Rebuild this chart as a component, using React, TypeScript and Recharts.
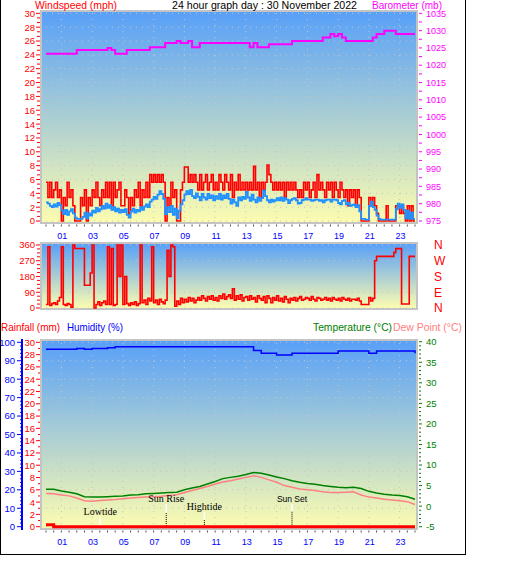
import React from "react";
import { ComposedChart, Line, XAxis, YAxis, ReferenceLine } from "recharts";

// ---- values (30 November 2022) ----
const HOUR_TICKS = [1, 3, 5, 7, 9, 11, 13, 15, 17, 19, 21, 23];
const HOUR_LABELS = ["01", "03", "05", "07", "09", "11", "13", "15", "17", "19", "21", "23"];

// wind: one sample every 7.5 minutes, 00:00 .. 24:00
const GUST_MPH = [
  5.6, 3.4, 5.6, 3.4, 4.5, 5.6, 3.4, 4.5,
  0, 3.4, 2.2, 5.6, 3.4, 4.5, 2.2, 0,
  0, 0, 3.4, 2.2, 4.5, 0, 3.4, 2.2,
  4.5, 3.4, 5.6, 3.4, 2.2, 4.5, 3.4, 5.6,
  3.4, 5.6, 2.2, 5.6, 3.4, 4.5, 5.6, 2.2,
  2.2, 4.5, 3.4, 1.1, 3.4, 2.2, 4.5, 3.4,
  5.6, 2.2, 4.5, 3.4, 5.6, 3.4, 6.7, 5.6,
  6.7, 5.6, 6.7, 5.6, 6.7, 5.6, 0, 3.4,
  2.2, 5.6, 3.4, 4.5, 0, 0, 4.5, 5.6,
  7.8, 7.8, 5.6, 6.7, 5.6, 6.7, 5.6, 4.5,
  6.7, 4.5, 5.6, 6.7, 4.5, 5.6, 6.7, 4.5,
  5.6, 4.5, 6.7, 5.6, 4.5, 6.7, 5.6, 4.5,
  6.7, 3.4, 5.6, 4.5, 6.7, 4.5, 5.6, 4.5,
  5.6, 4.5, 5.6, 4.5, 7.9, 4.5, 5.6, 3.4,
  5.6, 4.5, 5.6, 8.1, 6.7, 5.6, 4.5, 5.6,
  4.5, 5.6, 4.5, 5.6, 3.4, 5.6, 4.5, 5.6,
  4.5, 5.6, 4.5, 3.4, 4.5, 3.4, 5.6, 4.5,
  5.6, 3.4, 4.5, 5.6, 3.4, 6.7, 4.5, 5.6,
  4.5, 3.4, 5.6, 4.5, 5.6, 3.4, 5.6, 4.5,
  3.4, 5.6, 4.5, 3.4, 4.5, 2.2, 4.5, 3.4,
  4.5, 2.2, 4.5, 3.4, 0, 0, 0, 0,
  3.4, 2.2, 3.4, 2.2, 1.1, 0, 0, 0,
  0, 2.2, 0, 0, 0, 0, 2.2, 2.2,
  1.1, 2.2, 1.1, 0, 2.2, 0, 2.2, 0,
  0,
];
const AVG_MPH = [
  2.7, 2.5, 2.2, 2.0, 2.4, 2.1, 2.6, 2.3,
  1.5, 1.0, 1.6, 0.9, 1.4, 1.7, 1.1, 0.5,
  0.3, 0.3, 0.3, 0.6, 1.2, 0.4, 1.1, 0.8,
  1.5, 1.2, 1.9, 1.4, 1.7, 2.2, 1.8, 2.5,
  1.9, 2.3, 1.6, 2.0, 1.4, 1.8, 1.2, 1.6,
  1.3, 1.7, 0.9, 0.5, 1.4, 1.8, 1.2, 1.6,
  1.4, 2.0, 1.6, 2.1, 2.4, 2.0, 2.8, 3.1,
  3.5, 3.2, 3.8, 4.3, 3.9, 3.2, 1.0, 2.0,
  1.3, 2.2, 0.9, 1.8, 0.4, 1.5, 2.4, 3.0,
  3.8, 4.3, 3.9, 4.5, 3.6, 3.3, 4.0, 3.5,
  3.0, 3.9, 3.4, 3.1, 3.9, 3.3, 3.7, 3.0,
  3.6, 3.2, 3.9, 3.1, 3.7, 3.3, 3.9, 3.2,
  2.5, 3.1, 2.7, 2.2, 3.4, 3.0, 3.5, 3.2,
  4.2, 3.4, 2.9, 3.8, 3.1, 2.7, 3.4, 2.9,
  3.3, 4.4, 3.6, 3.0, 2.7, 3.1, 2.8, 3.0,
  3.3, 3.0, 3.4, 2.9, 3.3, 3.1, 2.6, 3.0,
  3.2, 3.3, 3.0, 2.5, 2.6, 3.0, 3.1, 3.3,
  3.1, 3.1, 2.9, 3.0, 3.1, 3.1, 2.9, 3.0,
  2.7, 3.0, 3.1, 3.1, 2.8, 3.1, 3.1, 3.0,
  2.6, 2.4, 2.9, 3.0, 2.4, 2.6, 2.2, 2.3,
  2.4, 2.0, 2.3, 1.4, 0.3, 0.3, 0.2, 0.2,
  2.2, 2.8, 2.0, 1.6, 0.8, 0.3, 0.2, 0.2,
  0.2, 0.2, 0.2, 0.2, 0.2, 0.2, 1.7, 2.5,
  1.9, 2.4, 1.6, 0.4, 1.5, 0.3, 1.2, 0.3,
  0.3,
];
const WIND_DIR = [
  20, 350, 15, 25, 30, 20, 40, 60,
  350, 20, 15, 25, 20, 5, 360, 340,
  340, 340, 340, 340, 130, 130, 130, 200,
  360, 0, 20, 35, 15, 30, 40, 20,
  350, 20, 340, 15, 20, 360, 180, 360,
  20, 180, 25, 15, 30, 20, 35, 15,
  25, 360, 30, 45, 20, 55, 40, 350,
  30, 45, 20, 50, 35, 25, 45, 330,
  180, 360, 350, 10, 40, 20, 55, 30,
  50, 35, 60, 40, 55, 30, 45, 60,
  45, 70, 55, 40, 65, 50, 70, 45,
  60, 40, 70, 55, 80, 50, 65, 75,
  55, 110, 45, 70, 50, 75, 40, 60,
  65, 45, 70, 50, 60, 35, 70, 55,
  45, 65, 30, 70, 55, 30, 60, 45,
  70, 40, 55, 35, 65, 50, 30, 55,
  45, 60, 40, 55, 65, 45, 50, 60,
  55, 45, 65, 50, 40, 60, 55, 45,
  50, 60, 45, 55, 40, 60, 50, 45,
  55, 40, 60, 50, 45, 55, 40, 50,
  50, 45, 55, 40, 20, 20, 20, 20,
  60, 40, 55, 270, 295, 295, 295, 295,
  295, 295, 295, 295, 295, 318, 339, 339,
  339, 23, 23, 23, 23, 295, 295, 295,
  295,
];
// barometer: one sample every 15 minutes
const BARO_MB = [
  1023.3, 1023.3, 1023.3, 1023.3, 1023.3, 1023.3, 1023.3, 1023.3,
  1024.4, 1024.4, 1024.4, 1024.4, 1024.4, 1024.4, 1024.4, 1024.4,
  1025.0, 1024.4, 1023.3, 1023.3, 1023.3, 1024.4, 1024.4, 1024.4,
  1024.4, 1024.4, 1024.4, 1025.2, 1025.2, 1025.2, 1025.2, 1026.4,
  1026.4, 1026.4, 1027.0, 1026.4, 1026.4, 1027.0, 1025.2, 1025.2,
  1026.4, 1026.4, 1026.4, 1026.4, 1026.4, 1026.4, 1026.4, 1026.4,
  1026.4, 1026.4, 1026.4, 1026.4, 1026.4, 1025.2, 1026.4, 1025.2,
  1025.2, 1025.2, 1026.1, 1026.1, 1026.1, 1026.1, 1026.1, 1026.1,
  1027.0, 1027.0, 1027.0, 1027.0, 1027.0, 1027.0, 1027.0, 1027.0,
  1028.0, 1028.0, 1029.0, 1028.4, 1029.0, 1028.0, 1027.0, 1027.0,
  1027.0, 1027.0, 1027.0, 1027.0, 1027.0, 1028.0, 1029.0, 1029.0,
  1030.0, 1030.0, 1030.0, 1029.0, 1029.0, 1029.0, 1029.0, 1029.0,
  1029.0,
];
// one sample every 30 minutes
const HUMIDITY = [
  96.2, 96.2, 96.2, 96.2, 96.7, 96.2, 96.7, 96.7, 97.1, 97.6,
  97.6, 97.6, 97.6, 97.6, 97.6, 97.6, 97.6, 97.6, 97.6, 97.6,
  97.6, 97.6, 97.6, 97.6, 97.6, 97.6, 97.6, 95.5, 94.0, 94.0,
  93.1, 93.1, 94.0, 94.0, 94.0, 94.0, 94.0, 94.0, 95.3, 95.3,
  95.3, 95.3, 94.0, 95.3, 95.3, 95.3, 95.3, 95.3, 94.0,
];
const TEMP_C = [
  4.1, 4.1, 3.7, 3.4, 3.0, 2.3, 2.2, 2.2, 2.3, 2.4,
  2.5, 2.7, 2.8, 3.0, 3.1, 3.2, 3.3, 3.4, 4.0, 4.4,
  4.8, 5.4, 6.0, 6.7, 7.0, 7.3, 7.7, 8.2, 8.0, 7.6,
  7.1, 6.7, 6.2, 5.8, 5.5, 5.3, 5.0, 4.8, 4.6, 4.5,
  4.6, 4.3, 3.6, 3.2, 2.9, 2.7, 2.6, 2.3, 1.7,
];
const DEW_C = [
  3.1, 3.0, 2.7, 2.5, 2.0, 1.3, 1.2, 1.4, 1.5, 1.6,
  1.8, 2.0, 2.1, 2.2, 2.3, 2.4, 2.6, 2.8, 3.3, 3.8,
  4.3, 4.8, 5.4, 5.9, 6.2, 6.6, 7.0, 7.4, 7.0, 6.4,
  5.8, 5.0, 4.6, 4.2, 4.0, 3.8, 3.5, 3.3, 3.3, 3.4,
  3.5, 2.7, 2.2, 2.0, 1.7, 1.5, 1.3, 1.1, 0.4,
];
const RAIN_MM = [
  0.3, 0, 0, 0, 0, 0, 0, 0, 0, 0,
  0, 0, 0, 0, 0, 0, 0, 0, 0, 0,
  0, 0, 0, 0, 0, 0, 0, 0, 0, 0,
  0, 0, 0, 0, 0, 0, 0, 0, 0, 0,
  0, 0, 0, 0, 0, 0, 0, 0, 0,
];

const EVENT_LABELS = ["Lowtide", "Sun Rise", "Hightide", "Sun Set"];
const EVENT_HOURS = [3.53, 7.82, 10.3, 16.0];

// axis labels
const MPH_LABELS = [0, 2, 4, 6, 8, 10, 12, 14, 16, 18, 20, 22, 24, 26, 28, 30];
const MB_LABELS = [975, 980, 985, 990, 995, 1000, 1005, 1010, 1015, 1020, 1025, 1030, 1035];
const DEG_LABELS = [0, 90, 180, 270, 360];
const COMPASS_LABELS = ["N", "E", "S", "W", "N"];
const HUM_LABELS = [0, 10, 20, 30, 40, 50, 60, 70, 80, 90, 100];
const RAIN_LABELS = [0, 2, 4, 6, 8, 10, 12, 14, 16, 18, 20, 22, 24, 26, 28, 30];
const TEMP_LABELS = [-5, 0, 5, 10, 15, 20, 25, 30, 35, 40];

// ---- layout / style ----
const WIND_STEP = 0.125;
const BARO_STEP = 0.25;
const CLIMATE_STEP = 0.5;
const X_DOMAIN: [number, number] = [-0.39, 24.195];
const FONT = "'Liberation Sans', Arial, sans-serif";
const GRID = { stroke: "#c4c4c4", strokeDasharray: "1 5" };
// white part top / split / bottom of each marker, in deg C
const MARKER_SPANS = [
  [-2.57, -4.85, -5.3],
  [0.52, -1.67, -5.3],
  [-1.5, -3.4, -5.3],
  [0.52, -1.35, -5.3],
];
const MARKER_FONTS = [
  { fontFamily: "'Liberation Serif', serif", fontSize: 10 },
  { fontFamily: "'Liberation Serif', serif", fontSize: 10 },
  { fontFamily: "'Liberation Serif', serif", fontSize: 10 },
  { fontFamily: FONT, fontSize: 8.5 },
];

const rows = (vals: number[], step: number) => vals.map((v, i) => ({ h: i * step, v }));
const steps = (from: number, to: number, step: number) => {
  const out: number[] = [];
  for (let v = from; v <= to + 1e-6; v += step) out.push(+v.toFixed(4));
  return out;
};
const near = (list: number[], v: number) => list.findIndex((l) => Math.abs(l - v) < 1e-3);

const HALF_HOURS = steps(0, 24, 0.5);

function hourTick(labelDy: number) {
  return (p: any) => {
    const i = near(HOUR_TICKS, p.payload.value);
    return (
      <g>
        <line x1={p.x} x2={p.x} y1={p.y + 0.5} y2={p.y + 2.5} stroke="#505050" />
        {i >= 0 && (
          <text x={p.x + 1} y={p.y + labelDy} textAnchor="middle" fill="#0000ff" fontSize={9} fontFamily={FONT}>
            {HOUR_LABELS[i]}
          </text>
        )}
      </g>
    );
  };
}

interface SideOpts {
  side: "left" | "right";
  color: string;
  labels: number[];
  text?: string[];
  major: number;
  minor: number;
  gap: number;
  fontSize?: number;
}

function sideTick(o: SideOpts) {
  return (p: any) => {
    const i = near(o.labels, p.payload.value);
    const len = i >= 0 ? o.major : o.minor;
    const dir = o.side === "left" ? -1 : 1;
    const x0 = o.side === "left" ? p.x : p.x + 1;
    return (
      <g>
        {len > 0 && <line x1={x0} x2={x0 + dir * len} y1={p.y} y2={p.y} stroke={o.color} />}
        {i >= 0 && (
          <text
            x={p.x + dir * o.gap}
            y={p.y + (o.fontSize ?? 9.5) * 0.36}
            textAnchor={o.side === "left" ? "end" : "start"}
            fill={o.color}
            fontSize={o.fontSize ?? 9.5}
            fontFamily={FONT}
          >
            {o.text ? o.text[i] : String(o.labels[i])}
          </text>
        )}
      </g>
    );
  };
}

const axisBase = { tickLine: false, axisLine: false, tickSize: 0, tickMargin: 0, interval: 0 as const, allowDataOverflow: true };

function WindChart() {
  return (
    <ComposedChart width={529} height={240} margin={{ top: 10, right: 51, bottom: 0, left: 0 }}>
      <XAxis type="number" dataKey="h" domain={X_DOMAIN} ticks={HALF_HOURS} tick={hourTick(15)} height={16} {...axisBase} />
      <YAxis
        yAxisId="mph"
        orientation="left"
        width={40}
        domain={[-0.43, 30.48]}
        ticks={steps(0, 30, 2 / 3)}
        tick={sideTick({ side: "left", color: "#ff0000", labels: MPH_LABELS, major: 4, minor: 3, gap: 5 })}
        {...axisBase}
      />
      <YAxis
        yAxisId="mb"
        orientation="right"
        width={60}
        domain={[974.13, 1035.96]}
        ticks={steps(975, 1035, 2.5)}
        tick={sideTick({ side: "right", color: "#ff00ff", labels: MB_LABELS, major: 3, minor: 3, gap: 8, fontSize: 9 })}
        {...axisBase}
      />
      {MPH_LABELS.map((v) => (
        <ReferenceLine key={`h${v}`} yAxisId="mph" y={v} {...GRID} />
      ))}
      {HOUR_TICKS.map((h) => (
        <ReferenceLine key={`v${h}`} yAxisId="mph" x={h} {...GRID} />
      ))}
      <Line yAxisId="mph" data={rows(GUST_MPH, WIND_STEP)} dataKey="v" type="stepAfter" stroke="#ff0000" strokeWidth={1.6} dot={false} isAnimationActive={false} />
      <Line yAxisId="mph" data={rows(AVG_MPH, WIND_STEP)} dataKey="v" type="stepAfter" stroke="#1e90ff" strokeWidth={1.8} dot={false} isAnimationActive={false} />
      <Line yAxisId="mb" data={rows(BARO_MB, BARO_STEP)} dataKey="v" type="stepAfter" stroke="#ff00ff" strokeWidth={2} dot={false} isAnimationActive={false} />
    </ComposedChart>
  );
}

function DirectionChart() {
  return (
    <ComposedChart width={529} height={90} margin={{ top: 12, right: 51, bottom: 10, left: 0 }}>
      <XAxis type="number" dataKey="h" domain={X_DOMAIN} hide allowDataOverflow />
      <YAxis
        yAxisId="deg"
        orientation="left"
        width={40}
        domain={[-11.4, 377.1]}
        ticks={steps(0, 360, 22.5)}
        tick={sideTick({ side: "left", color: "#ff0000", labels: DEG_LABELS, major: 4, minor: 3, gap: 5 })}
        {...axisBase}
      />
      <YAxis
        yAxisId="compass"
        orientation="right"
        width={60}
        domain={[-11.4, 377.1]}
        ticks={DEG_LABELS}
        tick={sideTick({ side: "right", color: "#ff0000", labels: DEG_LABELS, text: COMPASS_LABELS, major: 0, minor: 0, gap: 16, fontSize: 12 })}
        {...axisBase}
      />
      {DEG_LABELS.map((v) => (
        <ReferenceLine key={`d${v}`} yAxisId="deg" y={v} {...GRID} />
      ))}
      <Line yAxisId="deg" data={rows(WIND_DIR, WIND_STEP)} dataKey="v" type="stepAfter" stroke="#ff0000" strokeWidth={1.6} dot={false} isAnimationActive={false} />
    </ComposedChart>
  );
}

// left axes: ids are ordered so the rainfall axis sits next to the plot
function ClimateChart() {
  return (
    <ComposedChart width={529} height={225} margin={{ top: 9, right: 51, bottom: 0, left: 0 }}>
      <XAxis type="number" dataKey="h" domain={X_DOMAIN} ticks={HALF_HOURS} tick={hourTick(14.5)} height={25} {...axisBase} />
      <YAxis
        yAxisId="a-rain"
        orientation="left"
        width={18}
        domain={[-0.54, 30.54]}
        ticks={steps(0, 30, 1)}
        tick={sideTick({ side: "left", color: "#ff0000", labels: RAIN_LABELS, major: 4, minor: 2, gap: 5 })}
        {...axisBase}
      />
      <YAxis
        yAxisId="b-hum"
        orientation="left"
        width={22}
        domain={[-1.79, 101.79]}
        ticks={steps(0, 100, 2)}
        tick={sideTick({ side: "left", color: "#0000ff", labels: HUM_LABELS, major: 5, minor: 2, gap: 7 })}
        {...axisBase}
        axisLine={{ stroke: "#0000ff", strokeWidth: 2 }}
      />
      <YAxis
        yAxisId="temp"
        orientation="right"
        width={60}
        domain={[-5.8, 40.66]}
        ticks={steps(-5, 40, 1)}
        tick={sideTick({ side: "right", color: "#008000", labels: TEMP_LABELS, major: 3, minor: 2, gap: 8 })}
        {...axisBase}
      />
      {HUM_LABELS.map((v) => (
        <ReferenceLine key={`g${v}`} yAxisId="b-hum" y={v} {...GRID} />
      ))}
      {HOUR_TICKS.map((h) => (
        <ReferenceLine key={`c${h}`} yAxisId="b-hum" x={h} {...GRID} />
      ))}
      {EVENT_HOURS.map((h, i) => (
        <ReferenceLine
          key={`w${i}`}
          yAxisId="temp"
          segment={[{ x: h, y: MARKER_SPANS[i][0] }, { x: h, y: MARKER_SPANS[i][1] }]}
          stroke="#ffffff"
          strokeWidth={1.5}
          label={{ value: EVENT_LABELS[i], position: "top", offset: 2, fill: "#000000", ...MARKER_FONTS[i] }}
        />
      ))}
      {EVENT_HOURS.map((h, i) => (
        <ReferenceLine
          key={`b${i}`}
          yAxisId="temp"
          segment={[{ x: h, y: MARKER_SPANS[i][1] }, { x: h, y: MARKER_SPANS[i][2] }]}
          stroke="#000000"
          strokeDasharray="1 1"
        />
      ))}
      <Line yAxisId="temp" data={rows(DEW_C, CLIMATE_STEP)} dataKey="v" type="linear" stroke="#ff8080" strokeWidth={1.5} dot={false} isAnimationActive={false} />
      <Line yAxisId="temp" data={rows(TEMP_C, CLIMATE_STEP)} dataKey="v" type="linear" stroke="#008000" strokeWidth={1.5} dot={false} isAnimationActive={false} />
      <Line yAxisId="b-hum" data={rows(HUMIDITY, CLIMATE_STEP)} dataKey="v" type="stepAfter" stroke="#0000ff" strokeWidth={1.5} dot={false} isAnimationActive={false} />
      <Line yAxisId="a-rain" data={rows(RAIN_MM, CLIMATE_STEP)} dataKey="v" type="stepAfter" stroke="#ff0000" strokeWidth={3} dot={false} isAnimationActive={false} />
    </ComposedChart>
  );
}

const plotBox = (top: number, height: number): React.CSSProperties => ({
  position: "absolute",
  left: 40,
  top,
  width: 378,
  height,
  boxSizing: "border-box",
  border: "2px solid #c4c4c4",
  background: "linear-gradient(to bottom, #58a0f8, #fcfcb0)",
});

export default function App() {
  return (
    <div style={{ position: "absolute", left: 0, top: 0, width: 529, height: 563, background: "#ffffff", overflow: "hidden" }}>
      <div style={plotBox(10, 214)} />
      <div style={plotBox(242, 68)} />
      <div style={plotBox(339, 191)} />
      <div style={{ position: "absolute", left: 0, top: 0 }}>
        <WindChart />
      </div>
      <div style={{ position: "absolute", left: 0, top: 230 }}>
        <DirectionChart />
      </div>
      <div style={{ position: "absolute", left: 0, top: 330 }}>
        <ClimateChart />
      </div>
      <svg width={529} height={563} style={{ position: "absolute", left: 0, top: 0, pointerEvents: "none" }}>
        <line x1={0.5} y1={0} x2={0.5} y2={555} stroke="#000" />
        <line x1={465.5} y1={0} x2={465.5} y2={555} stroke="#000" />
        <line x1={0} y1={554.5} x2={466} y2={554.5} stroke="#000" />
        <g fontFamily={FONT} fontSize={10.5}>
          <text x={35} y={8.5} fill="#ff0000" textLength={82} lengthAdjust="spacingAndGlyphs">Windspeed (mph)</text>
          <text x={172} y={8.5} fill="#000000" textLength={185} lengthAdjust="spacingAndGlyphs">24 hour graph day : 30 November 2022</text>
          <text x={372} y={8.5} fill="#ff00ff" textLength={70} lengthAdjust="spacingAndGlyphs">Barometer (mb)</text>
        </g>
        <g fontFamily={FONT} fontSize={11}>
          <text x={1} y={330.5} fill="#ff0000" textLength={59} lengthAdjust="spacingAndGlyphs">Rainfall (mm)</text>
          <text x={67} y={330.5} fill="#0000ff" textLength={56} lengthAdjust="spacingAndGlyphs">Humidity (%)</text>
          <text x={313} y={330.5} fill="#008000" textLength={79} lengthAdjust="spacingAndGlyphs">Temperature (°C)</text>
          <text x={393} y={330.5} fill="#ff8080" textLength={69} lengthAdjust="spacingAndGlyphs">Dew Point (°C)</text>
        </g>
      </svg>
    </div>
  );
}
